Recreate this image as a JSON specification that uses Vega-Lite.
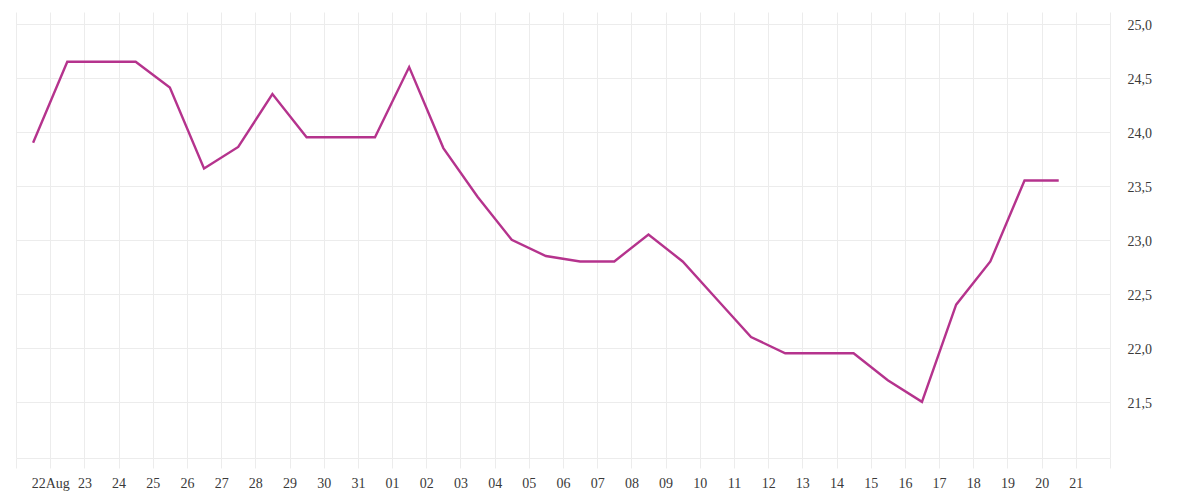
{
  "$schema": "https://vega.github.io/schema/vega-lite/v6.json",
  "autosize": "none",
  "width": 1094,
  "height": 446,
  "padding": {"left": 16, "top": 12, "right": 90, "bottom": 42},
  "background": "white",
  "config": {
    "view": {"stroke": null},
    "axis": {"labelFont": "Liberation Serif", "labelFontSize": 14, "labelColor": "#3a3a3a", "gridColor": "#ececec", "tickColor": "#ececec", "domainColor": "#ececec", "gridWidth": 1}
  },
  "data": {
    "values": [
      {"date": "2023-08-21T12:00:00", "value": 23.90},
      {"date": "2023-08-22T12:00:00", "value": 24.65},
      {"date": "2023-08-23T12:00:00", "value": 24.65},
      {"date": "2023-08-24T12:00:00", "value": 24.65},
      {"date": "2023-08-25T12:00:00", "value": 24.41},
      {"date": "2023-08-26T12:00:00", "value": 23.66},
      {"date": "2023-08-27T12:00:00", "value": 23.86},
      {"date": "2023-08-28T12:00:00", "value": 24.35},
      {"date": "2023-08-29T12:00:00", "value": 23.95},
      {"date": "2023-08-30T12:00:00", "value": 23.95},
      {"date": "2023-08-31T12:00:00", "value": 23.95},
      {"date": "2023-09-01T12:00:00", "value": 24.60},
      {"date": "2023-09-02T12:00:00", "value": 23.85},
      {"date": "2023-09-03T12:00:00", "value": 23.40},
      {"date": "2023-09-04T12:00:00", "value": 23.00},
      {"date": "2023-09-05T12:00:00", "value": 22.85},
      {"date": "2023-09-06T12:00:00", "value": 22.80},
      {"date": "2023-09-07T12:00:00", "value": 22.80},
      {"date": "2023-09-08T12:00:00", "value": 23.05},
      {"date": "2023-09-09T12:00:00", "value": 22.80},
      {"date": "2023-09-10T12:00:00", "value": 22.45},
      {"date": "2023-09-11T12:00:00", "value": 22.10},
      {"date": "2023-09-12T12:00:00", "value": 21.95},
      {"date": "2023-09-13T12:00:00", "value": 21.95},
      {"date": "2023-09-14T12:00:00", "value": 21.95},
      {"date": "2023-09-15T12:00:00", "value": 21.70},
      {"date": "2023-09-16T12:00:00", "value": 21.50},
      {"date": "2023-09-17T12:00:00", "value": 22.40},
      {"date": "2023-09-18T12:00:00", "value": 22.80},
      {"date": "2023-09-19T12:00:00", "value": 23.55},
      {"date": "2023-09-20T12:00:00", "value": 23.55}
    ]
  },
  "mark": {"type": "line", "color": "#b5338d", "strokeWidth": 2.4, "clip": true},
  "encoding": {
    "x": {
      "field": "date",
      "type": "temporal",
      "title": null,
      "scale": {"domain": [{"year": 2023, "month": 8, "date": 21}, {"year": 2023, "month": 9, "date": 22}], "nice": false},
      "axis": {
        "tickCount": {"interval": "day", "step": 1},
        "grid": true,
        "tickSize": 10,
        "domain": true,
        "labelPadding": 8,
        "labelOverlap": false,
        "labelFlush": false,
        "labelBound": false,
        "labelExpr": "(month(datum.value) == 7 && date(datum.value) == 21) || (month(datum.value) == 8 && date(datum.value) == 22) ? '' : (month(datum.value) == 7 && date(datum.value) == 22 ? '22Aug' : timeFormat(datum.value, '%d'))"
      }
    },
    "y": {
      "field": "value",
      "type": "quantitative",
      "title": null,
      "scale": {"domain": [20.98, 25.11], "nice": false, "zero": false},
      "axis": {
        "orient": "right",
        "values": [21.5, 22, 22.5, 23, 23.5, 24, 24.5, 25],
        "grid": true,
        "ticks": false,
        "domain": false,
        "labelPadding": 17,
        "labelAlign": "left",
        "labelOffset": 1.5,
        "labelExpr": "replace(format(datum.value, '.1f'), '.', ',')"
      }
    }
  }
}
